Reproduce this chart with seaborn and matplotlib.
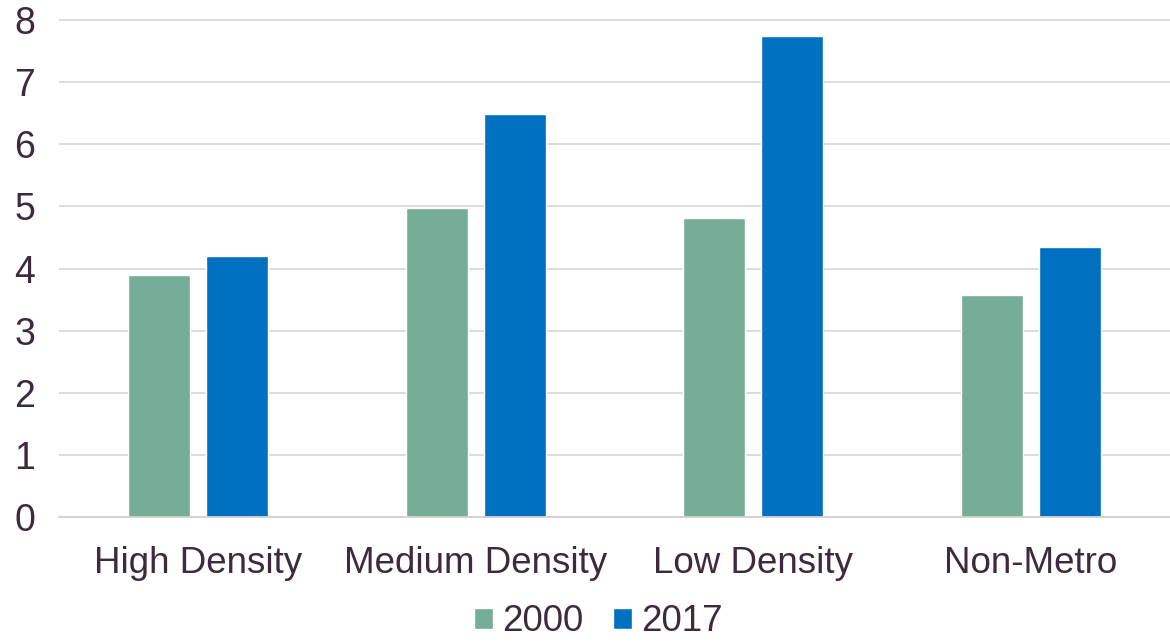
import matplotlib
matplotlib.use("Agg")
import matplotlib.pyplot as plt
import seaborn as sns
import pandas as pd

categories = ["High Density", "Medium Density", "Low Density", "Non-Metro"]
years = ["2000", "2017"]
values_2000 = [3.89, 4.98, 4.82, 3.58]
values_2017 = [4.21, 6.49, 7.74, 4.34]
y_ticks = [0, 1, 2, 3, 4, 5, 6, 7, 8]

text_color = "#3D2B3D"
palette = {"2000": "#76AD96", "2017": "#0070C0"}

df = pd.DataFrame({
    "category": categories * 2,
    "year": [years[0]] * len(categories) + [years[1]] * len(categories),
    "value": values_2000 + values_2017,
})

sns.set_theme(style="white")
plt.rcParams["font.family"] = ["Liberation Sans", "DejaVu Sans"]

fig = plt.figure(figsize=(11.7, 6.43), dpi=100)
ax = fig.add_axes([0.0504, 0.196, 0.9496, 0.7745])

sns.barplot(data=df, x="category", y="value", hue="year", order=categories,
            hue_order=years, palette=palette, width=0.561, gap=0.205,
            saturation=1, ax=ax, legend=True)

ax.set_ylim(0, 8.02)
ax.set_xlim(-0.5, len(categories) - 0.5)
ax.set_yticks(y_ticks)
ax.yaxis.grid(True, color="#D9D9D9", linewidth=1.3)
ax.set_axisbelow(True)
for side in ["left", "right", "top"]:
    ax.spines[side].set_visible(False)
ax.spines["bottom"].set_color("#D0D0D0")
ax.spines["bottom"].set_linewidth(1.3)
ax.set_xlabel("")
ax.set_ylabel("")
ax.tick_params(axis="y", length=0, pad=17, labelsize=27, labelcolor=text_color)
ax.tick_params(axis="x", length=0, pad=21, labelsize=26.5, labelcolor=text_color)

leg = ax.legend(loc="center", bbox_to_anchor=(0.5115, 0.033),
                bbox_transform=fig.transFigure, ncol=2,
                frameon=False, fontsize=26.5, handlelength=0.52, handleheight=0.52,
                handletextpad=0.25, columnspacing=0.79, borderpad=0)
for t in leg.get_texts():
    t.set_color(text_color)

fig.savefig("out.png", dpi=100)
